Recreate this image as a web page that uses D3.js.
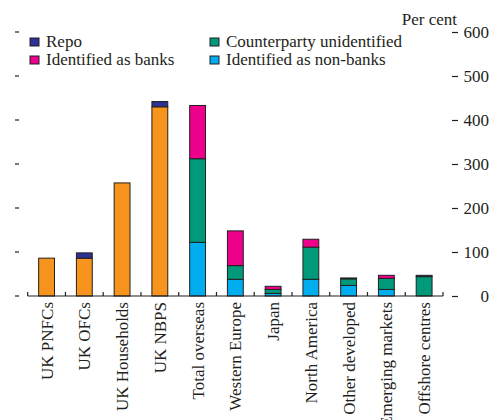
<!DOCTYPE html>
<html>
<head>
<meta charset="utf-8">
<script src="https://cdn.jsdelivr.net/npm/d3@7"></script>
<style>
  body { margin: 0; background: #fff; }
  text { font-family: "Liberation Serif", "DejaVu Serif", serif; fill: #231f20; }
</style>
</head>
<body>
<div id="chart"></div>
<script>
const categories = ["UK PNFCs", "UK OFCs", "UK Households", "UK NBPS", "Total overseas",
    "Western Europe", "Japan", "North America", "Other developed", "Emerging markets", "Offshore centres"];
const ukSector     = [86, 86, 257, 430, 0, 0, 0, 0, 0, 0, 0];
const nonBanks     = [0, 0, 0, 0, 122, 38, 6, 38, 24, 15, 0];
const unidentified = [0, 0, 0, 0, 190, 31, 9, 73, 15, 25, 44];
const banks        = [0, 0, 0, 0, 121, 79, 7, 18, 0, 7, 0];
const repo         = [0, 12, 0, 12, 0, 0, 0, 0, 2, 0, 3];
const yTicks = [0, 100, 200, 300, 400, 500, 600];

const keys = ["ukSector", "nonBanks", "unidentified", "banks", "repo"];
const colors = {
    ukSector: "#f7941d",
    nonBanks: "#00aeef",
    unidentified: "#00997a",
    banks: "#ec008c",
    repo: "#2e3192"
};
const legendItems = [
    { key: "repo", label: "Repo", col: 0, row: 0 },
    { key: "banks", label: "Identified as banks", col: 0, row: 1 },
    { key: "unidentified", label: "Counterparty unidentified", col: 1, row: 0 },
    { key: "nonBanks", label: "Identified as non-banks", col: 1, row: 1 }
];

const table = categories.map((c, i) => ({
    category: c,
    ukSector: ukSector[i],
    nonBanks: nonBanks[i],
    unidentified: unidentified[i],
    banks: banks[i],
    repo: repo[i]
}));

const w = 491, h = 420;
const fs = "17px";
const serif = "'Liberation Serif', 'DejaVu Serif', serif";

const svg = d3.select("#chart").append("svg")
    .attr("width", w)
    .attr("height", h);

const x = d3.scaleBand()
    .domain(categories)
    .range([27.7, 443])
    .paddingInner(0.58)
    .paddingOuter(0.29);

const y = d3.scaleLinear()
    .domain([0, 600])
    .range([296, 32]);

const stacked = d3.stack().keys(keys)(table);

// bars
svg.append("g")
    .selectAll("g")
    .data(stacked)
    .join("g")
    .attr("fill", (d) => colors[d.key])
    .selectAll("rect")
    .data((d) => d.filter((s) => s[1] - s[0] > 0))
    .join("rect")
    .attr("x", (d) => x(d.data.category))
    .attr("y", (d) => y(d[1]))
    .attr("width", x.bandwidth())
    .attr("height", (d) => y(d[0]) - y(d[1]))
    .attr("stroke", "#231f20")
    .attr("stroke-width", 1);

// baseline with category separators
const step = x.step();
const x0 = 27.7;
svg.append("line")
    .attr("x1", x0).attr("x2", 443)
    .attr("y1", y(0)).attr("y2", y(0))
    .attr("stroke", "#231f20")
    .attr("stroke-width", 1.2);
svg.append("g")
    .selectAll("line")
    .data(d3.range(categories.length + 1))
    .join("line")
    .attr("x1", (i) => x0 + i * step)
    .attr("x2", (i) => x0 + i * step)
    .attr("y1", y(0))
    .attr("y2", y(0) - 4)
    .attr("stroke", "#231f20")
    .attr("stroke-width", 1.2);

// left tick marks
svg.append("g")
    .selectAll("line")
    .data(yTicks)
    .join("line")
    .attr("x1", 15).attr("x2", 19)
    .attr("y1", (d) => y(d)).attr("y2", (d) => y(d))
    .attr("stroke", "#231f20")
    .attr("stroke-width", 1.2);

// right axis
const yAxis = d3.axisRight(y)
    .tickValues(yTicks)
    .tickSize(0)
    .tickPadding(0)
    .tickFormat(d3.format("d"));
const gy = svg.append("g").call(yAxis)
    .attr("font-family", serif)
    .attr("font-size", null);
gy.select(".domain").remove();
gy.selectAll(".tick").append("line")
    .attr("x1", 452).attr("x2", 458)
    .attr("stroke", "#231f20")
    .attr("stroke-width", 1.2);
gy.selectAll(".tick text")
    .attr("x", 489)
    .attr("text-anchor", "end")
    .attr("dy", "0.35em")
    .style("font-size", fs)
    .style("font-family", serif)
    .attr("fill", "#231f20");

svg.append("text")
    .attr("x", 457)
    .attr("y", 25)
    .attr("text-anchor", "end")
    .style("font-size", fs)
    .text("Per cent");

// category labels
svg.append("g")
    .selectAll("text")
    .data(categories)
    .join("text")
    .attr("transform", (d) => `translate(${x(d) + x.bandwidth() / 2}, 302) rotate(-90)`)
    .attr("text-anchor", "end")
    .attr("dy", "0.35em")
    .style("font-size", fs)
    .text((d) => d);

// legend
const legend = svg.append("g")
    .selectAll("g")
    .data(legendItems)
    .join("g")
    .attr("transform", (d) => `translate(${d.col === 0 ? 30 : 210}, ${38 + d.row * 18})`);
legend.append("rect")
    .attr("width", 9)
    .attr("height", 8)
    .attr("fill", (d) => colors[d.key])
    .attr("stroke", "#231f20")
    .attr("stroke-width", 1);
legend.append("text")
    .attr("x", 16)
    .attr("y", 9)
    .style("font-size", fs)
    .text((d) => d.label);
</script>
</body>
</html>
